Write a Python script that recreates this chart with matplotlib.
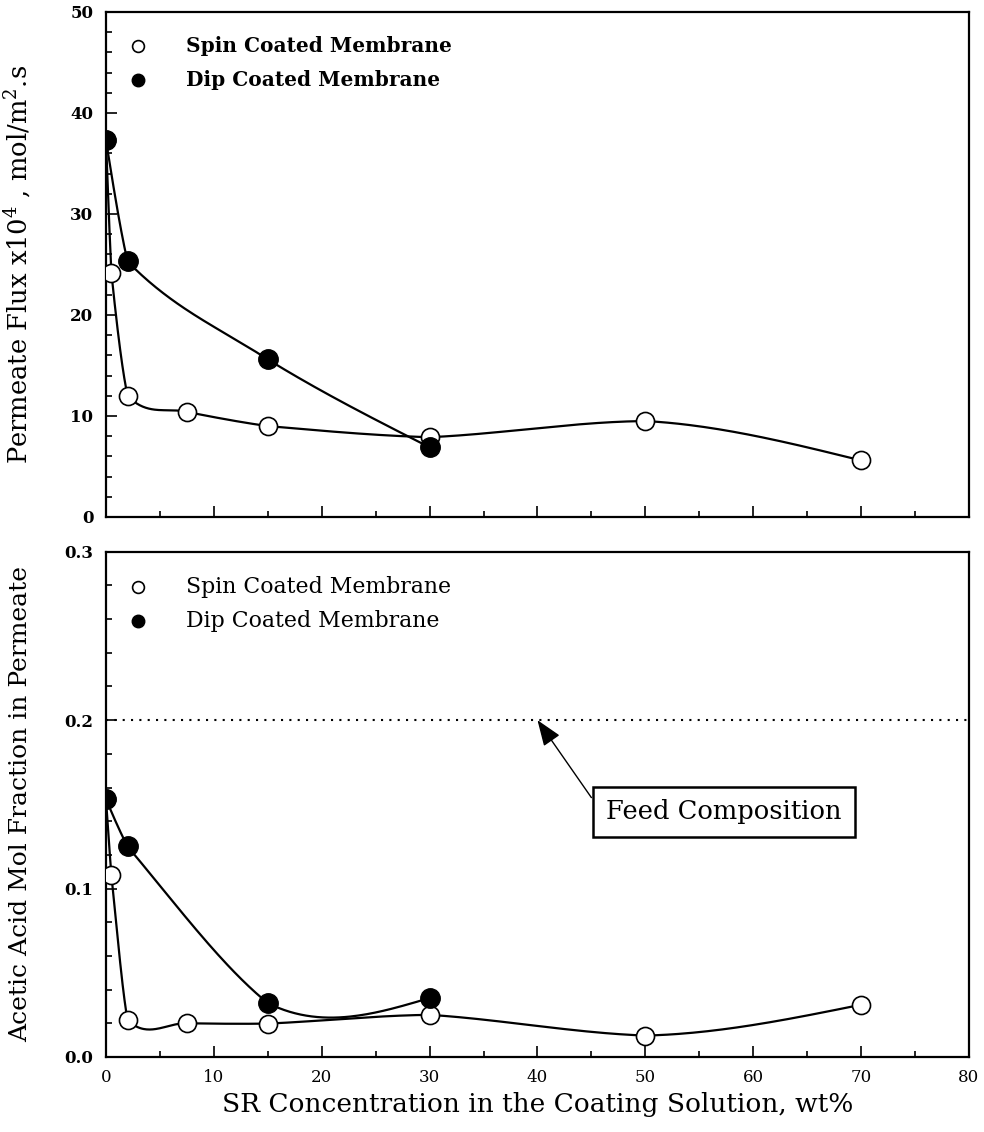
import numpy as np
import matplotlib.pyplot as plt

# SR concentration in the coating solution, wt%
spin_x = [0, 0.5, 2, 7.5, 15, 30, 50, 70]
dip_x = [0, 2, 15, 30]

# permeate flux x10^4, mol/m2.s
spin_flux = [37.3, 24.2, 12.0, 10.4, 9.0, 7.9, 9.5, 5.6]
dip_flux = [37.3, 25.3, 15.6, 6.9]

# acetic acid mol fraction in permeate
spin_frac = [0.153, 0.108, 0.022, 0.020, 0.0198, 0.025, 0.0127, 0.031]
dip_frac = [0.153, 0.125, 0.032, 0.035]

feed_frac = 0.2

plt.rcParams['font.family'] = 'DejaVu Serif'
plt.rcParams['mathtext.fontset'] = 'dejavuserif'


def smooth(xs, ys, k=0.5, kfirst=0.3, klast=1.0, n=60):
    """Hermite curve y(x) through the points, Catmull-Rom slopes with some tension."""
    x = np.asarray(xs, float)
    y = np.asarray(ys, float)
    s = np.diff(y) / np.diff(x)
    m = np.zeros_like(y)
    m[1:-1] = (y[2:] - y[:-2]) / (x[2:] - x[:-2])
    m[0] = (3 * s[0] - m[1]) / 2
    m[-1] = (3 * s[-1] - m[-2]) / 2
    t = np.linspace(0, 1, n)
    h10 = t**3 - 2 * t**2 + t
    h11 = t**3 - t**2
    ox, oy = [], []
    for i in range(len(x) - 1):
        h = x[i + 1] - x[i]
        kk = kfirst if i == 0 else (klast if i == len(x) - 2 else k)
        ox.append(x[i] + h * t)
        oy.append(y[i] + s[i] * h * t + h * kk * (h10 * (m[i] - s[i]) + h11 * (m[i + 1] - s[i])))
    return np.concatenate(ox), np.concatenate(oy)


fig = plt.figure(figsize=(9.84, 11.32), dpi=100)
ax1 = fig.add_axes([0.1077, 0.5433, 0.877, 0.4461])
ax2 = fig.add_axes([0.1077, 0.0663, 0.877, 0.4463])

for ax in (ax1, ax2):
    ax.set_xlim(0, 80)
    ax.set_xticks(np.arange(0, 81, 10))
    ax.set_xticks(np.arange(0, 81, 5), minor=True)
    ax.tick_params(which='both', direction='in', top=False, right=False, width=1.2)
    ax.tick_params(which='major', length=8, pad=9)
    ax.tick_params(which='minor', length=4)
    for s in ax.spines.values():
        s.set_linewidth(1.6)

# ---- top panel: permeate flux ----
ax1.set_ylim(0, 50)
ax1.set_yticks(np.arange(0, 51, 10))
ax1.set_yticks(np.arange(0, 51, 2), minor=True)
ax1.set_yticklabels([str(v) for v in range(0, 51, 10)], fontweight='bold', fontsize=12)
ax1.tick_params(axis='x', labelbottom=False)

for xs, ys in ((spin_x, spin_flux), (dip_x, dip_flux)):
    cx, cy = smooth(xs, ys)
    ax1.plot(cx, cy, color='black', lw=1.6, zorder=2)
ax1.plot(spin_x, spin_flux, 'o', ms=13, mfc='white', mec='black', mew=1.2, zorder=3)
ax1.plot(dip_x, dip_flux, 'o', ms=14, mfc='black', mec='black', zorder=4)
ax1.set_ylabel('Permeate Flux x10$^4$ , mol/m$^2$.s', fontsize=18.5)
ax1.yaxis.set_label_coords(-0.085, 0.5)

# legend glyphs
ax1.plot([0.037], [0.932], 'o', ms=8.5, mfc='white', mec='black', mew=1.2, transform=ax1.transAxes)
ax1.plot([0.037], [0.865], 'o', ms=9, mfc='black', mec='black', transform=ax1.transAxes)
ax1.text(0.093, 0.932, 'Spin Coated Membrane', fontsize=14.5, fontweight='bold',
         va='center', ha='left', transform=ax1.transAxes)
ax1.text(0.093, 0.865, 'Dip Coated Membrane', fontsize=14.5, fontweight='bold',
         va='center', ha='left', transform=ax1.transAxes)

# ---- bottom panel: acetic acid fraction ----
ax2.set_ylim(0, 0.3)
ax2.set_yticks(np.arange(0, 0.31, 0.1))
ax2.set_yticks(np.arange(0, 0.31, 0.02), minor=True)
ax2.set_yticklabels(['0.0', '0.1', '0.2', '0.3'], fontweight='bold', fontsize=12)
ax2.set_xticklabels([str(v) for v in range(0, 81, 10)], fontsize=12)

for xs, ys in ((spin_x, spin_frac), (dip_x, dip_frac)):
    cx, cy = smooth(xs, ys)
    ax2.plot(cx, cy, color='black', lw=1.6, zorder=2)
ax2.plot(spin_x, spin_frac, 'o', ms=13, mfc='white', mec='black', mew=1.2, zorder=3)
ax2.plot(dip_x, dip_frac, 'o', ms=14, mfc='black', mec='black', zorder=4)

ax2.axhline(feed_frac, color='black', lw=1.5, linestyle=(0, (1, 3)), zorder=1)
ax2.annotate('', xy=(40, feed_frac), xytext=(45, 0.154),
             arrowprops=dict(arrowstyle='-|>,head_length=0.8,head_width=0.3',
                             color='black', lw=1.0, mutation_scale=20, shrinkA=0, shrinkB=0))
ax2.text(57.3, 0.1455, 'Feed Composition', fontsize=18.5, ha='center', va='center',
         bbox=dict(boxstyle='square,pad=0.5', fc='white', ec='black', lw=1.8))

ax2.plot([0.037], [0.930], 'o', ms=8.5, mfc='white', mec='black', mew=1.2, transform=ax2.transAxes)
ax2.plot([0.037], [0.863], 'o', ms=9, mfc='black', mec='black', transform=ax2.transAxes)
ax2.text(0.093, 0.930, 'Spin Coated Membrane', fontsize=15.8,
         va='center', ha='left', transform=ax2.transAxes)
ax2.text(0.093, 0.863, 'Dip Coated Membrane', fontsize=15.8,
         va='center', ha='left', transform=ax2.transAxes)

ax2.set_ylabel('Acetic Acid Mol Fraction in Permeate', fontsize=18)
ax2.yaxis.set_label_coords(-0.085, 0.5)
ax2.set_xlabel('SR Concentration in the Coating Solution, wt%', fontsize=19, labelpad=4)

fig.savefig('out.png', dpi=100)
